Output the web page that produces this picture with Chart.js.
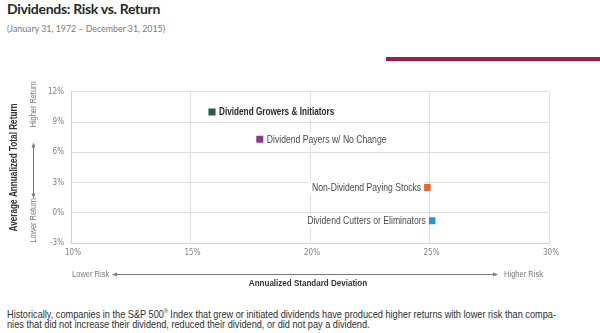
<!DOCTYPE html>
<html>
<head>
<meta charset="utf-8">
<script src="https://cdn.jsdelivr.net/npm/chart.js@4"></script>
<style>
  html, body { margin: 0; padding: 0; background: #fff; }
  #wrap { position: relative; width: 600px; height: 333px; overflow: hidden; }
  .title { position: absolute; left: 7px; top: 0px; font: 700 14px Lato, sans-serif; letter-spacing: -0.3px; color: #1f2a28; }
  .sub { position: absolute; left: 7px; top: 23px; font: 400 8.8px Lato, sans-serif; color: #7a7a7a; }
  .bar { position: absolute; left: 386px; top: 57px; width: 214px; height: 4px; background: #9c1c4c; }
  .note { position: absolute; left: 7px; top: 306px; font: 400 10.5px "Liberation Sans", sans-serif; line-height: 10.5px; color: #2e2e2e; }
  .note span { display: inline-block; white-space: nowrap; transform-origin: 0 0; }
  #riskChart { position: absolute; left: 0; top: 80px; }
</style>
</head>
<body>
<div id="wrap">
  <div class="title">Dividends: Risk vs. Return</div>
  <div class="sub">(January 31, 1972 – December 31, 2015)</div>
  <div class="bar"></div>
  <canvas id="riskChart" width="600" height="210"></canvas>
  <div class="note"><span>Historically, companies in the S&amp;P 500<sup style="font-size:6px">®</sup> Index that grew or initiated dividends have produced higher returns with lower risk than compa-</span><br><span>nies that did not increase their dividend, reduced their dividend, or did not pay a dividend.</span></div>
</div>
<script>
// groups, annualized std dev (%) and annualized total return (%)
var groups = ['Dividend Growers & Initiators', 'Dividend Payers w/ No Change', 'Non-Dividend Paying Stocks', 'Dividend Cutters or Eliminators'];
var riskValues = [15.9, 17.9, 24.9, 25.1];
var returnValues = [10.0, 7.3, 2.5, -0.8];
var xTicks = [10, 15, 20, 25, 30];
var yTicks = [-3, 0, 3, 6, 9, 12];

var colors = ['#2d5b45', '#8b3a94', '#e0692b', '#1f9ad8'];
var labelSide = ['right', 'right', 'left', 'left'];
var SQUEEZE = 0.82; // Liberation Sans squeezed to narrow proportions
var sans = '"Liberation Sans", Arial, sans-serif';

// footnote lines are squeezed a little less
document.querySelectorAll('.note span').forEach(function(s) {
  s.style.transform = 'scaleX(0.875)';
});

function narrowText(ctx, text, x, y, align) {
  var w = ctx.measureText(text).width * SQUEEZE;
  var left = align === 'center' ? x - w / 2 : align === 'right' ? x - w : x;
  ctx.save();
  ctx.translate(left, y);
  ctx.scale(SQUEEZE, 1);
  ctx.textAlign = 'left';
  ctx.fillText(text, 0, 0);
  ctx.restore();
  return w;
}

// text beside each square
var pointLabels = {
  id: 'pointLabels',
  afterDatasetsDraw: function(chart) {
    var ctx = chart.ctx;
    chart.data.datasets.forEach(function(ds, i) {
      var pt = chart.getDatasetMeta(i).data[0];
      ctx.save();
      ctx.font = i === 0 ? 'bold 10px ' + sans : '10.5px ' + sans;
      ctx.textBaseline = 'middle';
      var w = ctx.measureText(ds.label).width * SQUEEZE;
      var x = labelSide[i] === 'right' ? pt.x + 7 : pt.x - 6 - w;
      ctx.fillStyle = '#fff';
      ctx.fillRect(x - 3, pt.y - 7, w + 6, 14);
      ctx.fillStyle = i === 0 ? '#2a2a2a' : '#4a4a4a';
      narrowText(ctx, ds.label, x, pt.y + 0.5, 'left');
      ctx.restore();
    });
  }
};

function arrowHead(ctx, x, y, dx, dy) {
  ctx.beginPath();
  ctx.moveTo(x, y);
  ctx.lineTo(x - dx * 5 - dy * 2, y - dy * 5 - dx * 2);
  ctx.lineTo(x - dx * 5 + dy * 2, y - dy * 5 + dx * 2);
  ctx.closePath();
  ctx.fill();
}

// x tick labels, axis titles and the lower/higher arrows
var axisNotes = {
  id: 'axisNotes',
  afterDraw: function(chart) {
    var ctx = chart.ctx, a = chart.chartArea;
    var xs = chart.scales.x;
    var cy = (a.top + a.bottom) / 2;
    var cx = (a.left + a.right) / 2;
    ctx.save();
    ctx.strokeStyle = '#777';
    ctx.lineWidth = 1;
    ctx.textBaseline = 'middle';

    ctx.font = '8px "DejaVu Sans Condensed", sans-serif';
    ctx.fillStyle = '#808080';
    ctx.textAlign = 'center';
    xTicks.forEach(function(v) {
      ctx.fillText(v + '%', xs.getPixelForValue(v) + 2, a.bottom + 10);
    });

    // vertical side
    ctx.save();
    ctx.translate(14, cy);
    ctx.rotate(-Math.PI / 2);
    ctx.font = 'bold 10px ' + sans;
    ctx.fillStyle = '#333';
    narrowText(ctx, 'Average Annualized Total Return', 0, 0, 'center');
    ctx.restore();

    ctx.save();
    ctx.translate(33.5, cy);
    ctx.rotate(-Math.PI / 2);
    ctx.font = '9px ' + sans;
    ctx.fillStyle = '#7a7a7a';
    narrowText(ctx, 'Higher Return', 63, 0, 'center');
    narrowText(ctx, 'Lower Return', -53, 0, 'center');
    ctx.beginPath();
    ctx.moveTo(-27, 0);
    ctx.lineTo(21, 0);
    ctx.stroke();
    arrowHead(ctx, 25, 0, 1, 0);
    arrowHead(ctx, -31, 0, -1, 0);
    ctx.restore();

    // horizontal side
    var ly = a.bottom + 31.5;
    ctx.font = '9.2px ' + sans;
    ctx.fillStyle = '#7a7a7a';
    narrowText(ctx, 'Lower Risk', a.left + 1, ly, 'left');
    narrowText(ctx, 'Higher Risk', a.right - 6, ly, 'right');
    ctx.beginPath();
    ctx.moveTo(a.left + 45, ly);
    ctx.lineTo(a.right - 55, ly);
    ctx.stroke();
    arrowHead(ctx, a.left + 41, ly, -1, 0);
    arrowHead(ctx, a.right - 51, ly, 1, 0);

    ctx.font = 'bold 9.8px ' + sans;
    ctx.fillStyle = '#333';
    narrowText(ctx, 'Annualized Standard Deviation', cx - 2, ly + 9, 'center');
    ctx.restore();
  }
};

var ctx = document.getElementById('riskChart').getContext('2d');
var chart = new Chart(ctx, {
  type: 'scatter',
  data: {
    datasets: groups.map(function(g, i) {
      return {
        label: g,
        data: [{ x: riskValues[i], y: returnValues[i] }],
        pointStyle: 'rect',
        pointRadius: 5,
        pointHoverRadius: 5,
        backgroundColor: colors[i],
        borderColor: colors[i],
        borderWidth: 0
      };
    })
  },
  options: {
    responsive: false,
    animation: false,
    layout: { padding: { top: 10, right: 51, left: 0, bottom: 0 } },
    plugins: { legend: { display: false }, tooltip: { enabled: false } },
    scales: {
      x: {
        min: xTicks[0],
        max: xTicks[xTicks.length - 1],
        afterFit: function(s) { s.height = 47; },
        grid: { color: '#dedede', drawTicks: false },
        border: { color: '#d4d4d4' },
        ticks: { stepSize: xTicks[1] - xTicks[0], display: false }
      },
      y: {
        min: yTicks[0],
        max: yTicks[yTicks.length - 1],
        afterFit: function(s) { s.width = 71; },
        grid: { color: '#dedede', drawTicks: false },
        border: { color: '#d4d4d4' },
        ticks: {
          stepSize: yTicks[1] - yTicks[0],
          padding: 7,
          color: '#808080',
          font: { family: '"DejaVu Sans Condensed", sans-serif', size: 8 },
          callback: function(v) { return v + '%'; }
        }
      }
    }
  },
  plugins: [pointLabels, axisNotes]
});
</script>
</body>
</html>
